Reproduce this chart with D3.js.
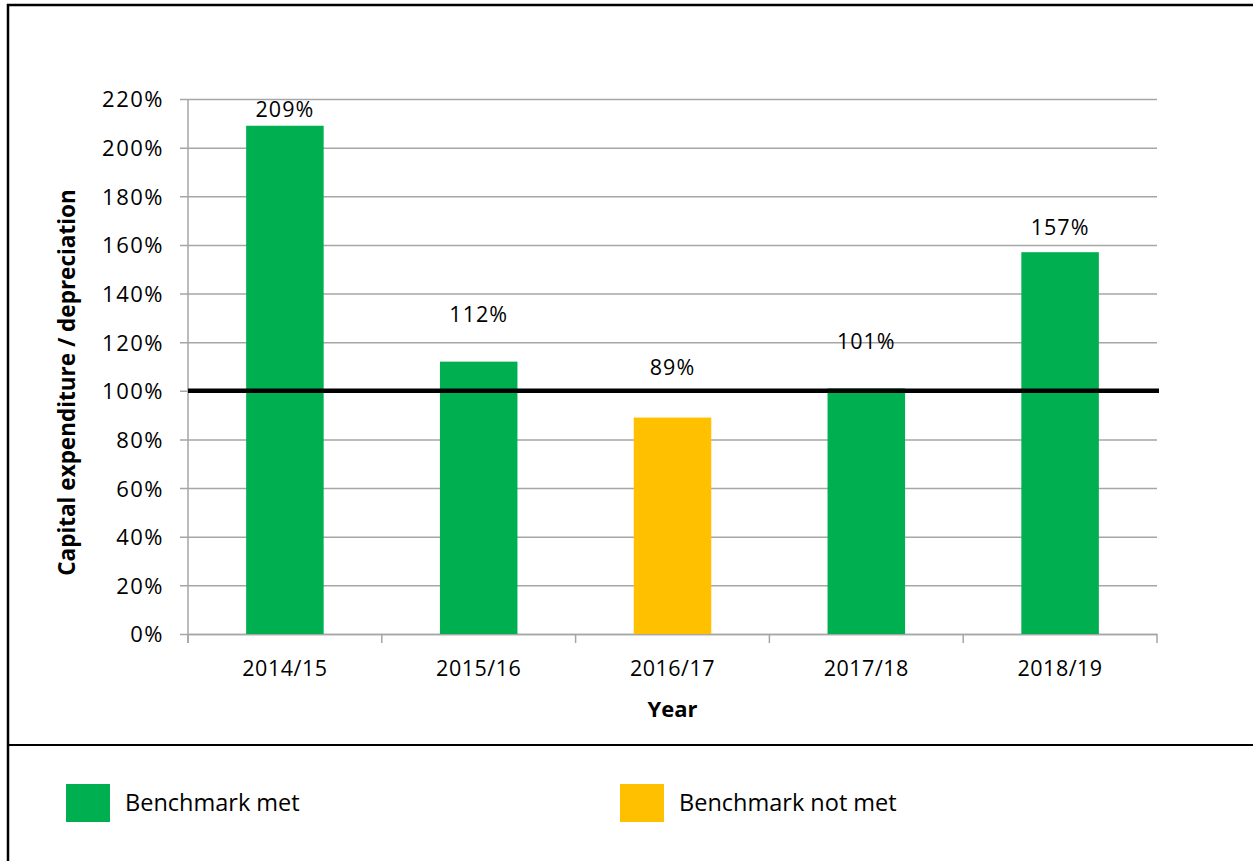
<!DOCTYPE html>
<html>
<head>
<meta charset="utf-8">
<script src="https://cdn.jsdelivr.net/npm/d3@7"></script>
<style>
  html, body { margin: 0; padding: 0; background: #fff; }
  svg { display: block; }
  svg text { font-family: "Open Sans", Lato, sans-serif; }
</style>
</head>
<body>
<svg id="chart" width="1253" height="861"></svg>
<script>
// Chart data
const years = ["2014/15", "2015/16", "2016/17", "2017/18", "2018/19"];
const ratios = [209, 112, 89, 101, 157];
const benchmark = 100;
const yTicks = [0, 20, 40, 60, 80, 100, 120, 140, 160, 180, 200, 220];
const legendLabels = ["Benchmark met", "Benchmark not met"];

const colorMet = "#00B050";
const colorNotMet = "#FFC000";

// Layout
const plot = { left: 188, right: 1157, top: 99, bottom: 634 };
// Vertical lift of each value label above its bar top
const labelLift = [16, 47, 50, 47, 25];
const numFont = 21.5;

const svg = d3.select("#chart");

// Outer frame and legend separator
svg.append("rect")
  .attr("x", 8).attr("y", 5).attr("width", 1270).attr("height", 880)
  .attr("fill", "none").attr("stroke", "#000").attr("stroke-width", 2.5);
svg.append("line")
  .attr("x1", 8).attr("x2", 1253).attr("y1", 745).attr("y2", 745)
  .attr("stroke", "#000").attr("stroke-width", 2);

const x = d3.scaleBand().domain(years).range([plot.left, plot.right]).paddingInner(0.6).paddingOuter(0.3);
const xOuter = d3.scaleBand().domain(years).range([plot.left, plot.right]);
const y = d3.scaleLinear().domain([0, 220]).range([plot.bottom, plot.top]);

// Horizontal gridlines with left tick marks
const yAxis = d3.axisLeft(y)
  .tickValues(yTicks)
  .tickSize(plot.right - plot.left + 8)
  .tickFormat(d => d + "%");
const gy = svg.append("g")
  .attr("transform", `translate(${plot.right},0)`)
  .call(yAxis)
  .attr("font-family", null);
gy.select(".domain").remove();
gy.selectAll(".tick line").attr("stroke", "#a6a6a6").attr("stroke-width", 1.5);
gy.selectAll(".tick text")
  .attr("x", -(plot.right - plot.left) - 24)
  .attr("dy", "0.36em")
  .attr("font-size", numFont + 0.5)
  .attr("letter-spacing", 1.5)
  .attr("fill", "#000");

// Y axis line
svg.append("line")
  .attr("x1", plot.left).attr("x2", plot.left)
  .attr("y1", plot.top).attr("y2", plot.bottom + 9)
  .attr("stroke", "#a6a6a6").attr("stroke-width", 1.5);

// Category axis with ticks between categories
const gx = svg.append("g")
  .attr("transform", `translate(0,${plot.bottom})`)
  .call(d3.axisBottom(xOuter).tickSize(0).tickSizeOuter(0))
  .attr("font-family", null);
gx.select(".domain").attr("stroke", "#a6a6a6").attr("stroke-width", 1.5);
gx.selectAll(".tick text")
  .attr("y", 35)
  .attr("dy", "0.34em")
  .attr("font-size", numFont)
  .attr("letter-spacing", 0.5)
  .attr("fill", "#000");
const boundaries = years.map(d => xOuter(d)).concat([xOuter(years[years.length - 1]) + xOuter.bandwidth()]);
svg.append("g").selectAll("line")
  .data(boundaries)
  .join("line")
  .attr("x1", d => d).attr("x2", d => d)
  .attr("y1", plot.bottom).attr("y2", plot.bottom + 9)
  .attr("stroke", "#a6a6a6").attr("stroke-width", 1.5);

// Bars
svg.append("g").selectAll("rect")
  .data(years)
  .join("rect")
  .attr("x", d => x(d))
  .attr("width", x.bandwidth())
  .attr("y", (d, i) => y(ratios[i]))
  .attr("height", (d, i) => y(0) - y(ratios[i]))
  .attr("fill", (d, i) => ratios[i] >= benchmark ? colorMet : colorNotMet);

// Benchmark line at 100%
svg.append("line")
  .attr("x1", plot.left).attr("x2", plot.right + 2)
  .attr("y1", y(benchmark)).attr("y2", y(benchmark))
  .attr("stroke", "#000").attr("stroke-width", 4.5);

// Value labels
svg.append("g").selectAll("text")
  .data(years)
  .join("text")
  .attr("x", d => x(d) + x.bandwidth() / 2)
  .attr("y", (d, i) => y(ratios[i]) - labelLift[i])
  .attr("dy", "0.36em")
  .attr("text-anchor", "middle")
  .attr("font-size", numFont)
  .attr("letter-spacing", 1)
  .attr("fill", "#000")
  .text((d, i) => ratios[i] + "%");

// Axis titles
svg.append("text")
  .attr("transform", `translate(67,${(plot.top + plot.bottom) / 2 + 16}) rotate(-90)`)
  .attr("text-anchor", "middle")
  .attr("dy", "0.34em")
  .attr("font-size", 22.5)
  .attr("font-weight", "bold")
  .text("Capital expenditure / depreciation");
svg.append("text")
  .attr("x", (plot.left + plot.right) / 2)
  .attr("y", 710)
  .attr("dy", "0.34em")
  .attr("text-anchor", "middle")
  .attr("font-size", 22)
  .attr("font-weight", "bold")
  .text("Year");

// Legend
const legendX = [66, 620];
const legend = svg.append("g").selectAll("g")
  .data(legendLabels)
  .join("g")
  .attr("transform", (d, i) => `translate(${legendX[i]},784)`);
legend.append("rect")
  .attr("width", 44).attr("height", 38)
  .attr("fill", (d, i) => i === 0 ? colorMet : colorNotMet);
legend.append("text")
  .attr("x", 59).attr("y", 19)
  .attr("dy", "0.34em")
  .attr("font-size", 23.5)
  .attr("fill", "#000")
  .text(d => d);
</script>
</body>
</html>
